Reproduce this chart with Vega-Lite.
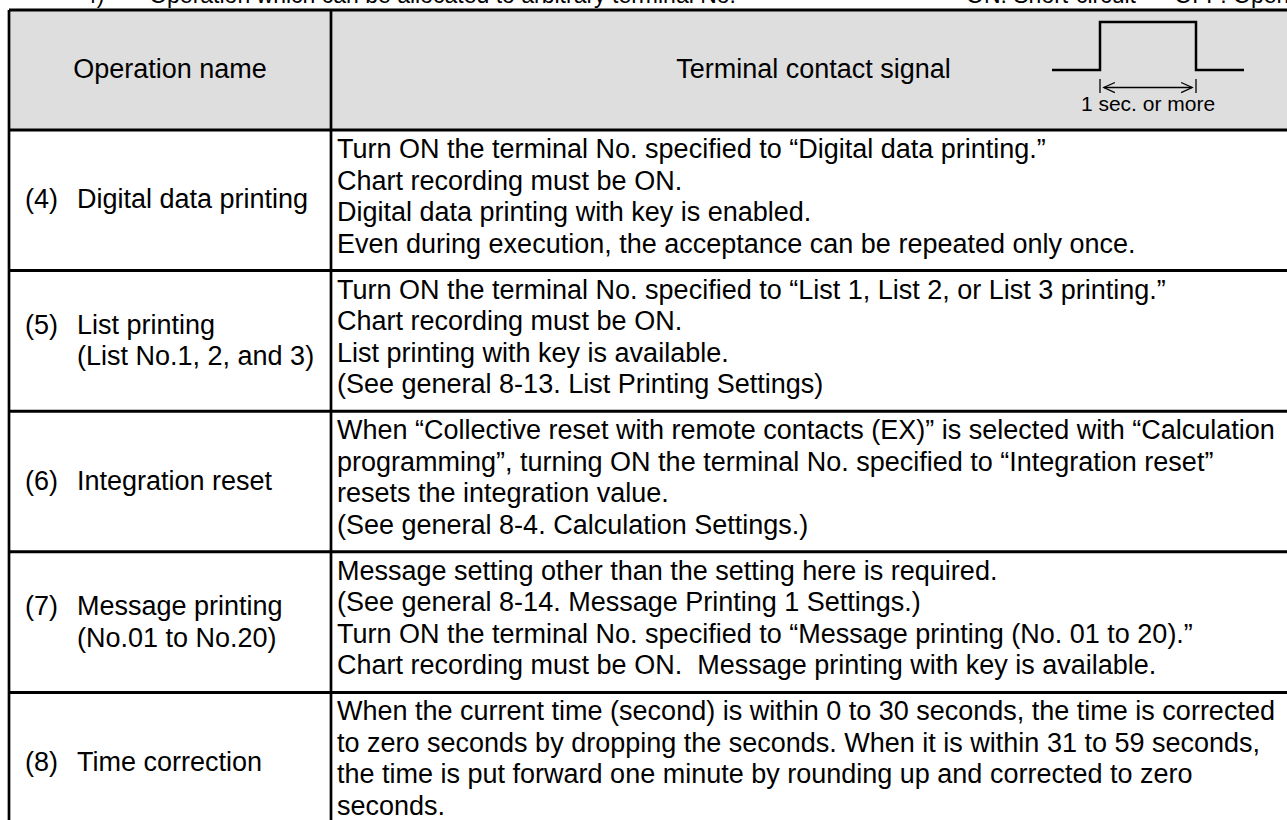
{
  "$schema": "https://vega.github.io/schema/vega-lite/v6.json",
  "width": 1278,
  "height": 810,
  "autosize": {"type": "none"},
  "padding": {"left": 9, "top": 10, "right": 0, "bottom": 0},
  "background": "white",
  "view": {"stroke": null},
  "datasets": {
    "band": [{"from": 2.5, "to": 3.5, "c0": 0, "c1": 2}],
    "edges": [{"edge": 2.5}, {"edge": 3.5}, {"edge": 4.5}, {"edge": 5.5}, {"edge": 6.5}, {"edge": 7.5}],
    "cols": [{"col": 0}, {"col": 1}],
    "cells": [
      {"part": "capL", "row": 2, "col": 0, "text": "4)\u00a0\u00a0\u00a0\u00a0\u00a0\u00a0\u00a0Operation which can be allocated to arbitrary terminal No."},
      {"part": "capR", "row": 2, "col": 1, "text": "ON: Short-circuit\u00a0\u00a0\u00a0\u00a0\u00a0\u00a0OFF: Open"},
      {"part": "head", "row": 3, "col": 0.5, "text": "Operation name"},
      {"part": "head", "row": 3, "col": 1.5, "text": "Terminal contact signal"},
      {"part": "num", "row": 4, "col": 0, "text": ["(4)"]},
      {"part": "name", "row": 4, "col": 0, "text": ["Digital data printing"]},
      {"part": "desc", "row": 4, "col": 1, "text": ["Turn ON the terminal No. specified to “Digital data printing.”", "Chart recording must be ON.", "Digital data printing with key is enabled.", "Even during execution, the acceptance can be repeated only once."]},
      {"part": "num", "row": 5, "col": 0, "text": ["(5)", ""]},
      {"part": "name", "row": 5, "col": 0, "text": ["List printing", "(List No.1, 2, and 3)"]},
      {"part": "desc", "row": 5, "col": 1, "text": ["Turn ON the terminal No. specified to “List 1, List 2, or List 3 printing.”", "Chart recording must be ON.", "List printing with key is available.", "(See general 8-13. List Printing Settings)"]},
      {"part": "num", "row": 6, "col": 0, "text": ["(6)"]},
      {"part": "name", "row": 6, "col": 0, "text": ["Integration reset"]},
      {"part": "desc", "row": 6, "col": 1, "text": ["When “Collective reset with remote contacts (EX)” is selected with “Calculation", "programming”, turning ON the terminal No. specified to “Integration reset”", "resets the integration value.", "(See general 8-4. Calculation Settings.)"]},
      {"part": "num", "row": 7, "col": 0, "text": ["(7)", ""]},
      {"part": "name", "row": 7, "col": 0, "text": ["Message printing", "(No.01 to No.20)"]},
      {"part": "desc", "row": 7, "col": 1, "text": ["Message setting other than the setting here is required.", "(See general 8-14. Message Printing 1 Settings.)", "Turn ON the terminal No. specified to “Message printing (No. 01 to 20).”", "Chart recording must be ON.\u00a0 Message printing with key is available."]},
      {"part": "num", "row": 8, "col": 0, "text": ["(8)"]},
      {"part": "name", "row": 8, "col": 0, "text": ["Time correction"]},
      {"part": "desc", "row": 8, "col": 1, "text": ["When the current time (second) is within 0 to 30 seconds, the time is corrected", "to zero seconds by dropping the seconds. When it is within 31 to 59 seconds,", "the time is put forward one minute by rounding up and corrected to zero", "seconds."]}
    ],
    "signal": [
      {"seg": "wave", "i": 0, "t": 0, "lv": 0},
      {"seg": "wave", "i": 1, "t": 1, "lv": 0},
      {"seg": "wave", "i": 2, "t": 1, "lv": 1},
      {"seg": "wave", "i": 3, "t": 3, "lv": 1},
      {"seg": "wave", "i": 4, "t": 3, "lv": 0},
      {"seg": "wave", "i": 5, "t": 4, "lv": 0},
      {"seg": "tickL", "i": 0, "t": 1, "lv": -0.19},
      {"seg": "tickL", "i": 1, "t": 1, "lv": -0.48},
      {"seg": "tickR", "i": 0, "t": 3, "lv": -0.19},
      {"seg": "tickR", "i": 1, "t": 3, "lv": -0.48},
      {"seg": "shaft", "i": 0, "t": 1.08, "lv": -0.365},
      {"seg": "shaft", "i": 1, "t": 2.92, "lv": -0.365},
      {"seg": "headL", "i": 0, "t": 1.31, "lv": -0.26},
      {"seg": "headL", "i": 1, "t": 1.08, "lv": -0.365},
      {"seg": "headL", "i": 2, "t": 1.31, "lv": -0.47},
      {"seg": "headR", "i": 0, "t": 2.69, "lv": -0.26},
      {"seg": "headR", "i": 1, "t": 2.92, "lv": -0.365},
      {"seg": "headR", "i": 2, "t": 2.69, "lv": -0.47}
    ],
    "signalLabel": [{"t": 2, "lv": -0.73, "label": "1 sec. or more"}]
  },
  "layer": [
    {
      "layer": [
        {
          "data": {"name": "band"},
          "mark": {"type": "rect", "color": "#dedede"},
          "encoding": {
            "x": {"field": "c0", "type": "quantitative", "scale": {"domain": [0, 1, 2], "range": [0, 322, 1287], "nice": false, "zero": false}, "axis": null},
            "x2": {"field": "c1"},
            "y": {"field": "from", "type": "quantitative", "scale": {"domain": [2, 2.5, 3.5, 8.5], "range": [-7.5, 0, 120, 823], "nice": false, "zero": false}, "axis": null},
            "y2": {"field": "to"}
          }
        },
        {
          "data": {"name": "edges"},
          "mark": {"type": "rule", "color": "black", "strokeWidth": 3},
          "encoding": {
            "y": {"field": "edge", "type": "quantitative", "scale": {"domain": [2, 2.5, 3.5, 8.5], "range": [-7.5, 0, 120, 823], "nice": false, "zero": false}, "axis": null}
          }
        },
        {
          "data": {"name": "cols"},
          "mark": {"type": "rule", "color": "black", "strokeWidth": 2.7},
          "encoding": {
            "x": {"field": "col", "type": "quantitative", "scale": {"domain": [0, 1, 2], "range": [0, 322, 1287], "nice": false, "zero": false}, "axis": null}
          }
        },
        {
          "data": {"name": "cells"},
          "transform": [{"filter": "datum.part === 'capL'"}],
          "mark": {"type": "text", "align": "left", "baseline": "alphabetic", "dx": 75, "font": "Liberation Sans", "fontSize": 23, "color": "black"},
          "encoding": {
            "x": {"field": "col", "type": "quantitative", "scale": {"domain": [0, 1, 2], "range": [0, 322, 1287], "nice": false, "zero": false}, "axis": null},
            "y": {"field": "row", "type": "quantitative", "scale": {"domain": [2, 2.5, 3.5, 8.5], "range": [-7.5, 0, 120, 823], "nice": false, "zero": false}, "axis": null},
            "text": {"field": "text"}
          }
        },
        {
          "data": {"name": "cells"},
          "transform": [{"filter": "datum.part === 'capR'"}],
          "mark": {"type": "text", "align": "left", "baseline": "alphabetic", "dx": 635, "font": "Liberation Sans", "fontSize": 23, "color": "black"},
          "encoding": {
            "x": {"field": "col", "type": "quantitative", "scale": {"domain": [0, 1, 2], "range": [0, 322, 1287], "nice": false, "zero": false}, "axis": null},
            "y": {"field": "row", "type": "quantitative", "scale": {"domain": [2, 2.5, 3.5, 8.5], "range": [-7.5, 0, 120, 823], "nice": false, "zero": false}, "axis": null},
            "text": {"field": "text"}
          }
        },
        {
          "data": {"name": "cells"},
          "transform": [{"filter": "datum.part === 'head'"}],
          "mark": {"type": "text", "align": "center", "baseline": "middle", "font": "Liberation Sans", "fontSize": 27, "color": "black"},
          "encoding": {
            "x": {"field": "col", "type": "quantitative", "scale": {"domain": [0, 1, 2], "range": [0, 322, 1287], "nice": false, "zero": false}, "axis": null},
            "y": {"field": "row", "type": "quantitative", "scale": {"domain": [2, 2.5, 3.5, 8.5], "range": [-7.5, 0, 120, 823], "nice": false, "zero": false}, "axis": null},
            "text": {"field": "text"}
          }
        },
        {
          "data": {"name": "cells"},
          "transform": [{"filter": "datum.part === 'num' && datum.text.length === 1"}],
          "mark": {"type": "text", "align": "left", "baseline": "middle", "dx": 16, "font": "Liberation Sans", "fontSize": 27, "color": "black"},
          "encoding": {
            "x": {"field": "col", "type": "quantitative", "scale": {"domain": [0, 1, 2], "range": [0, 322, 1287], "nice": false, "zero": false}, "axis": null},
            "y": {"field": "row", "type": "quantitative", "scale": {"domain": [2, 2.5, 3.5, 8.5], "range": [-7.5, 0, 120, 823], "nice": false, "zero": false}, "axis": null},
            "text": {"field": "text"}
          }
        },
        {
          "data": {"name": "cells"},
          "transform": [{"filter": "datum.part === 'num' && datum.text.length === 2"}],
          "mark": {"type": "text", "align": "left", "baseline": "middle", "dx": 16, "dy": -15, "lineHeight": 31.5, "font": "Liberation Sans", "fontSize": 27, "color": "black"},
          "encoding": {
            "x": {"field": "col", "type": "quantitative", "scale": {"domain": [0, 1, 2], "range": [0, 322, 1287], "nice": false, "zero": false}, "axis": null},
            "y": {"field": "row", "type": "quantitative", "scale": {"domain": [2, 2.5, 3.5, 8.5], "range": [-7.5, 0, 120, 823], "nice": false, "zero": false}, "axis": null},
            "text": {"field": "text"}
          }
        },
        {
          "data": {"name": "cells"},
          "transform": [{"filter": "datum.part === 'name' && datum.text.length === 1"}],
          "mark": {"type": "text", "align": "left", "baseline": "middle", "dx": 68, "font": "Liberation Sans", "fontSize": 27, "color": "black"},
          "encoding": {
            "x": {"field": "col", "type": "quantitative", "scale": {"domain": [0, 1, 2], "range": [0, 322, 1287], "nice": false, "zero": false}, "axis": null},
            "y": {"field": "row", "type": "quantitative", "scale": {"domain": [2, 2.5, 3.5, 8.5], "range": [-7.5, 0, 120, 823], "nice": false, "zero": false}, "axis": null},
            "text": {"field": "text"}
          }
        },
        {
          "data": {"name": "cells"},
          "transform": [{"filter": "datum.part === 'name' && datum.text.length === 2"}],
          "mark": {"type": "text", "align": "left", "baseline": "middle", "dx": 68, "dy": -15, "lineHeight": 31.5, "font": "Liberation Sans", "fontSize": 27, "color": "black"},
          "encoding": {
            "x": {"field": "col", "type": "quantitative", "scale": {"domain": [0, 1, 2], "range": [0, 322, 1287], "nice": false, "zero": false}, "axis": null},
            "y": {"field": "row", "type": "quantitative", "scale": {"domain": [2, 2.5, 3.5, 8.5], "range": [-7.5, 0, 120, 823], "nice": false, "zero": false}, "axis": null},
            "text": {"field": "text"}
          }
        },
        {
          "data": {"name": "cells"},
          "transform": [{"filter": "datum.part === 'desc'"}],
          "mark": {"type": "text", "align": "left", "baseline": "middle", "dx": 6, "dy": -50.3, "lineHeight": 31.5, "font": "Liberation Sans", "fontSize": 27, "color": "black"},
          "encoding": {
            "x": {"field": "col", "type": "quantitative", "scale": {"domain": [0, 1, 2], "range": [0, 322, 1287], "nice": false, "zero": false}, "axis": null},
            "y": {"field": "row", "type": "quantitative", "scale": {"domain": [2, 2.5, 3.5, 8.5], "range": [-7.5, 0, 120, 823], "nice": false, "zero": false}, "axis": null},
            "text": {"field": "text"}
          }
        }
      ]
    },
    {
      "layer": [
        {
          "data": {"name": "signal"},
          "transform": [{"filter": "datum.seg === 'wave'"}],
          "mark": {"type": "line", "color": "black", "strokeWidth": 2.5, "strokeJoin": "miter"},
          "encoding": {
            "x": {"field": "t", "type": "quantitative", "scale": {"domain": [0, 4], "range": [1043, 1235], "nice": false, "zero": false}, "axis": null},
            "y": {"field": "lv", "type": "quantitative", "scale": {"domain": [0, 1], "range": [60, 12], "nice": false, "zero": false}, "axis": null},
            "detail": {"field": "seg"},
            "order": {"field": "i", "type": "quantitative"}
          }
        },
        {
          "data": {"name": "signal"},
          "transform": [{"filter": "datum.seg !== 'wave'"}],
          "mark": {"type": "line", "color": "black", "strokeWidth": 1.3},
          "encoding": {
            "x": {"field": "t", "type": "quantitative", "scale": {"domain": [0, 4], "range": [1043, 1235], "nice": false, "zero": false}, "axis": null},
            "y": {"field": "lv", "type": "quantitative", "scale": {"domain": [0, 1], "range": [60, 12], "nice": false, "zero": false}, "axis": null},
            "detail": {"field": "seg"},
            "order": {"field": "i", "type": "quantitative"}
          }
        },
        {
          "data": {"name": "signalLabel"},
          "mark": {"type": "text", "align": "center", "baseline": "middle", "font": "Liberation Sans", "fontSize": 21, "color": "black"},
          "encoding": {
            "x": {"field": "t", "type": "quantitative", "scale": {"domain": [0, 4], "range": [1043, 1235], "nice": false, "zero": false}, "axis": null},
            "y": {"field": "lv", "type": "quantitative", "scale": {"domain": [0, 1], "range": [60, 12], "nice": false, "zero": false}, "axis": null},
            "text": {"field": "label"}
          }
        }
      ]
    }
  ],
  "resolve": {"scale": {"x": "independent", "y": "independent"}}
}
